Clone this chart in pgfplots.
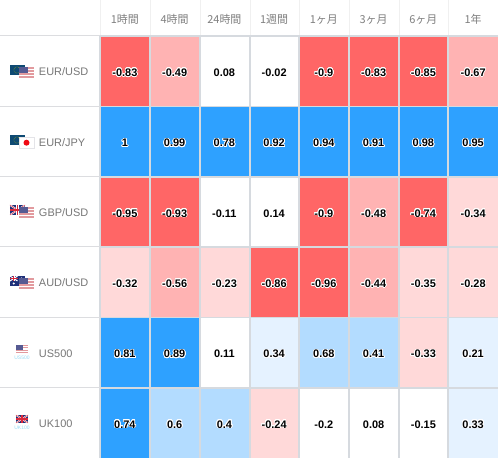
\documentclass[border=0pt]{standalone}
\usepackage{fontspec}
\setmainfont{Liberation Sans}
\newfontfamily\cjk{Noto Sans CJK JP}
\usepackage{contour}
\contourlength{0.7pt}
\contournumber{24}
\usepackage{pgfplots}
\pgfplotsset{compat=1.18}
\usepackage{pgfplotstable}
\definecolor{hdr}{HTML}{808080}
\definecolor{lab}{HTML}{777777}
\definecolor{rule}{HTML}{DCDDE0}
\definecolor{vrule}{HTML}{F0F0F0}
\definecolor{cellrule}{HTML}{D6DADF}
\definecolor{eub}{HTML}{0E4A73}
\definecolor{euy}{HTML}{6F8A3A}
\definecolor{usr}{HTML}{E29A9E}
\definecolor{usb}{HTML}{565A92}
\definecolor{ukb}{HTML}{1E2F78}
\definecolor{ukr}{HTML}{D8283C}
\definecolor{jpr}{HTML}{F00A14}
\definecolor{jpe}{HTML}{E4E4E8}
\definecolor{tinyc}{HTML}{9ADCF6}
\pgfplotstableread{
x y cls lab
0 0 6 -0.83
1 0 5 -0.49
2 0 3 0.08
3 0 3 -0.02
4 0 6 -0.9
5 0 6 -0.83
6 0 6 -0.85
7 0 5 -0.67
0 1 0 1
1 1 0 0.99
2 1 0 0.78
3 1 0 0.92
4 1 0 0.94
5 1 0 0.91
6 1 0 0.98
7 1 0 0.95
0 2 6 -0.95
1 2 6 -0.93
2 2 3 -0.11
3 2 3 0.14
4 2 6 -0.9
5 2 5 -0.48
6 2 6 -0.74
7 2 4 -0.34
0 3 4 -0.32
1 3 5 -0.56
2 3 4 -0.23
3 3 6 -0.86
4 3 6 -0.96
5 3 5 -0.44
6 3 4 -0.35
7 3 4 -0.28
0 4 0 0.81
1 4 0 0.89
2 4 3 0.11
3 4 2 0.34
4 4 1 0.68
5 4 1 0.41
6 4 4 -0.33
7 4 2 0.21
0 5 0 0.74
1 5 1 0.6
2 5 1 0.4
3 5 4 -0.24
4 5 3 -0.2
5 5 3 0.08
6 5 3 -0.15
7 5 2 0.33
}\cells
% small flag drawings: #1,#2 = left and top pixel of the flag
\newcommand{\euflag}[2]{\begin{scope}[shift={(#1,458-#2)},y=-1bp]
  \fill[eub] (0,0) rectangle (15,10);
  \draw[euy,line width=.5bp,dash pattern=on .8bp off .8bp] (7,5) circle (3.2);
\end{scope}}
\newcommand{\ukflag}[4]{\begin{scope}[shift={(#1,458-#2)},y=-1bp]
  \fill[ukb] (0,0) rectangle (#3,#4);
  \draw[white,line width=1.6bp] (0,0) -- (#3,#4) (0,#4) -- (#3,0);
  \draw[ukr,line width=.5bp] (0,0) -- (#3,#4) (0,#4) -- (#3,0);
  \draw[white,line width=2.6bp] (#3/2,0) -- (#3/2,#4) (0,#4/2) -- (#3,#4/2);
  \draw[ukr,line width=1.4bp] (#3/2,0) -- (#3/2,#4) (0,#4/2) -- (#3,#4/2);
\end{scope}}
\newcommand{\usflag}[4]{\begin{scope}[shift={(#1,458-#2)},y=-1bp]
  \fill[white] (0,0) rectangle (#3,#4);
  \foreach \k in {0,2,4,6}{\fill[usr] (0,{\k*#4/7}) rectangle (#3,{(\k+1)*#4/7});}
  \fill[usb] (0,0) rectangle ({0.62*#3},{4*#4/7});
\end{scope}}
\newcommand{\jpflag}[2]{\begin{scope}[shift={(#1,458-#2)},y=-1bp]
  \fill[white] (0,0) rectangle (15,11);
  \draw[jpe,line width=.5bp] (0,0) rectangle (15,11);
  \fill[jpr] (7.5,5.7) circle (3);
\end{scope}}
\newcommand{\auflag}[2]{\begin{scope}[shift={(#1,458-#2)},y=-1bp]
  \fill[ukb] (0,0) rectangle (15,10);
  \draw[white,line width=1bp] (0,0) -- (7.5,5) (0,5) -- (7.5,0);
  \draw[white,line width=1.5bp] (3.75,0) -- (3.75,5) (0,2.5) -- (7.5,2.5);
  \draw[ukr,line width=.8bp] (3.75,0) -- (3.75,5) (0,2.5) -- (7.5,2.5);
  \fill[white] (3.75,7.6) circle (1.1) (11.5,2) circle (.6) (13,4.5) circle (.6) (11.5,7.8) circle (.6);
\end{scope}}
\begin{document}
\begin{tikzpicture}[x=1bp,y=1bp]
\path[use as bounding box,fill=white] (0,0) rectangle (498,458);
\begin{axis}[
  at={(100bp,0bp)},anchor=south west,
  scale only axis,width=398bp,height=422bp,
  xmin=-0.5,xmax=7.5,ymin=-0.5,ymax=5.5,y dir=reverse,
  axis line style={draw=none},
  major tick length=0pt,
  xtick={0,...,7},
  ytick={0,...,5},
  xticklabel pos=top,
  xticklabels={1時間,4時間,24時間,1週間,1ヶ月,3ヶ月,6ヶ月,1年},
  yticklabels={EUR/USD,EUR/JPY,GBP/USD,AUD/USD,US500,UK100},
  xticklabel style={font=\cjk\fontsize{11}{12}\selectfont,text=hdr,yshift=8bp},
  yticklabel style={font=\fontsize{11}{12}\selectfont,text=lab,text width=61bp,align=left,xshift=3.5bp,yshift=-0.8bp},
  colormap={corr}{
    rgb255=(46,161,255) rgb255=(179,220,255) rgb255=(229,242,255) rgb255=(255,255,255)
    rgb255=(255,217,217) rgb255=(255,179,179) rgb255=(255,102,102)},
  colormap access=direct,
]
\addplot[matrix plot*,mesh/cols=8,point meta=explicit] table[x=x,y=y,meta=cls] {\cells};
\addplot[only marks,mark=none,
  point meta=explicit symbolic,
  nodes near coords={\contour{white}{\pgfplotspointmeta}},
  nodes near coords align={anchor=center},
  nodes near coords style={font=\bfseries\fontsize{11}{12}\selectfont,text=black,inner sep=0pt,yshift=-1.8bp},
] table[x=x,y=y,meta=lab] {\cells};
\end{axis}
\foreach \px in {100,150,200,250,299,349,399,448}{
  \draw[cellrule,line width=1.1bp] (\px,0) -- (\px,422);
  \draw[vrule,line width=1bp] (\px,422) -- (\px,458);
}
\foreach \py in {36,106.5,177,247,317.5,388}{
  \draw[rule,line width=1bp] (0,458-\py) -- (100,458-\py);
  \draw[cellrule,line width=1.1bp] (100,458-\py) -- (498,458-\py);
}
\euflag{10}{65}\usflag{19}{67}{15}{11}
\euflag{10}{135}\jpflag{19}{137}
\ukflag{10}{205}{15}{10}\usflag{19}{207}{15}{11}
\auflag{10}{276}\usflag{19}{278}{15}{11}
\usflag{16}{345}{12}{8}
\node[font=\fontsize{5}{6}\selectfont,text=tinyc,inner sep=0pt] at (22,458-358) {US500};
\ukflag{16}{415}{12}{8}
\node[font=\fontsize{5}{6}\selectfont,text=tinyc,inner sep=0pt] at (22,458-428) {UK100};
\end{tikzpicture}
\end{document}
